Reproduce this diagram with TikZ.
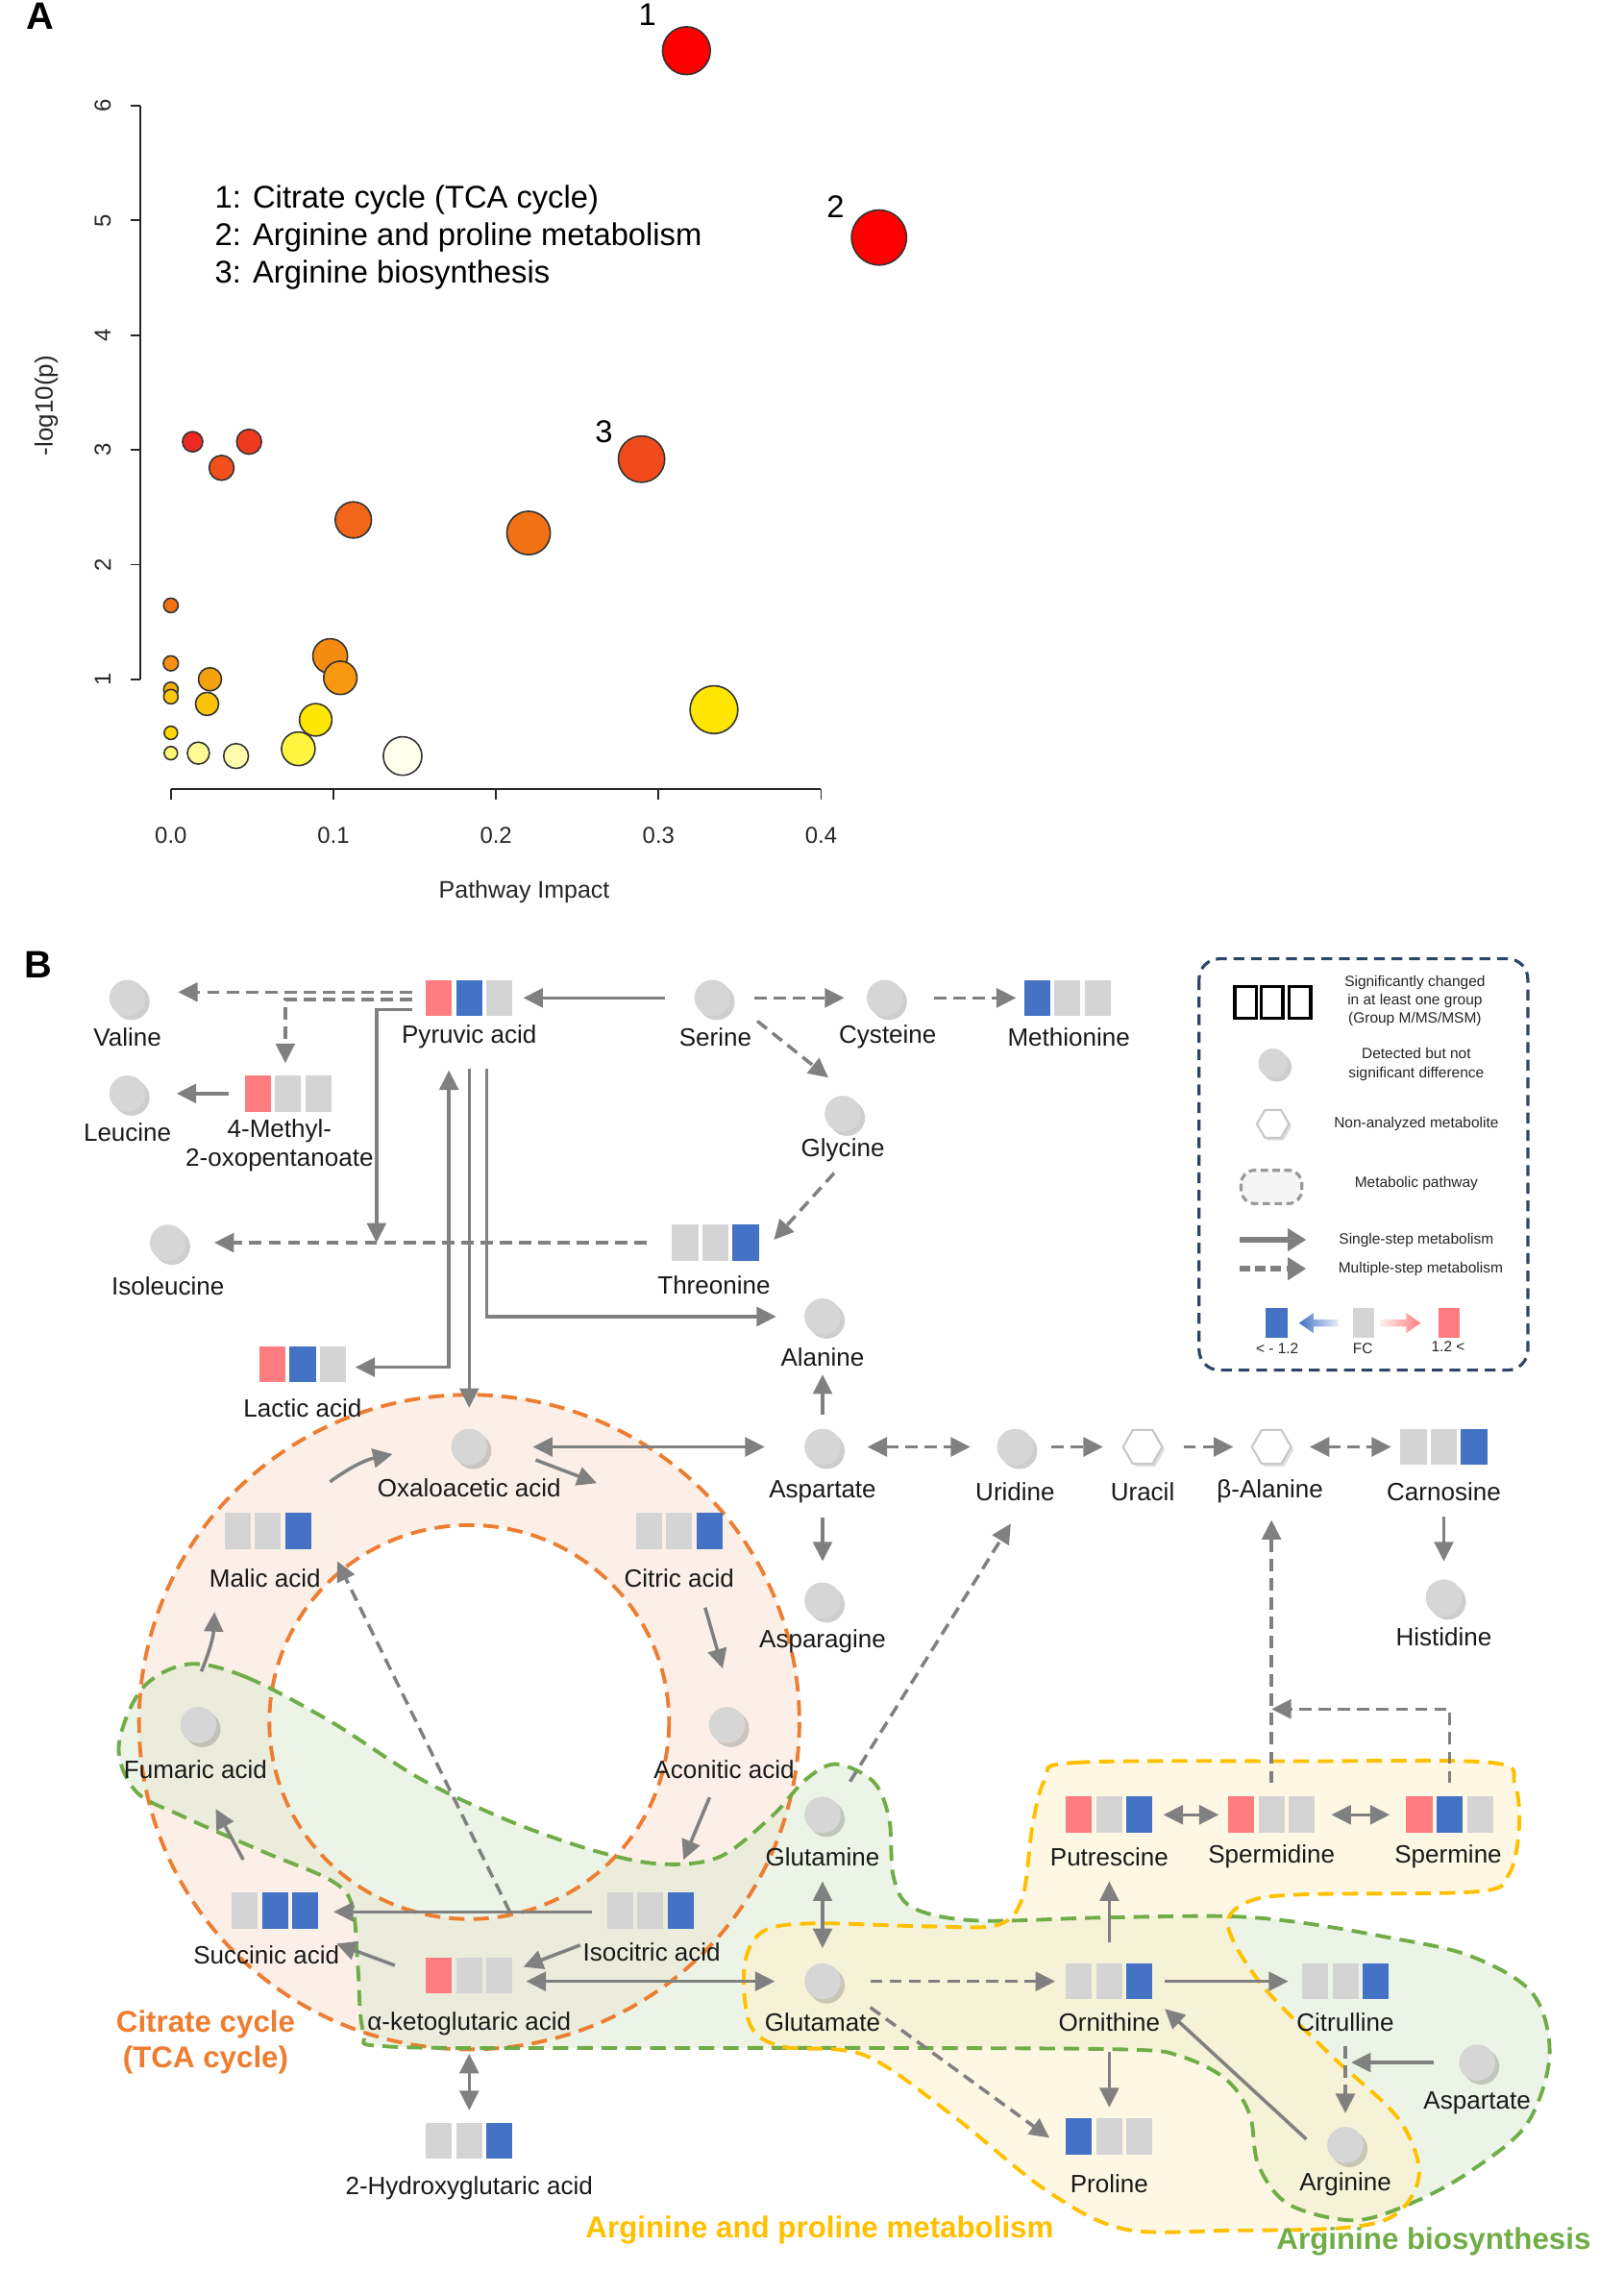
\documentclass[tikz,border=0pt]{standalone}
\usepackage{fontspec}
\setmainfont{Liberation Sans}
\usepackage{tikz}
\usetikzlibrary{arrows.meta,positioning,calc,shapes.geometric,shadows}

\definecolor{fcred}{HTML}{FF7C80}
\definecolor{fcblue}{HTML}{4472C4}
\definecolor{fcgray}{HTML}{D4D4D4}
\definecolor{metgray}{HTML}{D6D6D6}
\definecolor{arrgray}{HTML}{808080}
\definecolor{tcaedge}{HTML}{ED7D31}
\definecolor{tcafill}{HTML}{F9DFCF}
\definecolor{argedge}{HTML}{70AD47}
\definecolor{argfill}{HTML}{DDEBD3}
\definecolor{proedge}{HTML}{FFC000}
\definecolor{profill}{HTML}{FDF1CD}
\definecolor{legnavy}{HTML}{2F4468}

\tikzset{
  metab/.style={circle, fill=metgray, minimum size=10.7pt, inner sep=0pt,
    drop shadow={shadow xshift=1.2pt, shadow yshift=-1.2pt, opacity=.35, fill=black!55}},
  hexa/.style={regular polygon, regular polygon sides=6, minimum size=11.6pt, inner sep=0pt,
    fill=white, draw=black!22, line width=.6pt,
    drop shadow={shadow xshift=.8pt, shadow yshift=-.8pt, opacity=.25, fill=black!50}},
  fcbox/.style={rectangle, minimum width=7.7pt, minimum height=10.7pt, inner sep=0pt},
  lbl/.style={font=\fontsize{7.4}{8.6}\selectfont, text=black!90, inner sep=0pt, align=center},
  legtxt/.style={font=\fontsize{4.4}{5.5}\selectfont, text=black!85, inner sep=0pt, align=center},
  axnum/.style={font=\fontsize{6.8}{8}\selectfont, text=black!85, inner sep=0pt},
  numtxt/.style={font=\fontsize{9.3}{11}\selectfont, inner sep=0pt},
  onestep/.style={draw=arrgray, line width=1pt},
  multistep/.style={onestep, dash pattern=on 3.6pt off 2.1pt},
  pathline/.style={line width=1.1pt, dash pattern=on 4.6pt off 2.6pt},
  pathname/.style={font=\bfseries\fontsize{8.9}{10.7}\selectfont, inner sep=0pt, align=center},
}

% three fold-change boxes: name, position, left, middle, right colour
\newcommand{\fcbar}[5]{%
  \node[fcbox,fill=#4] (#1) at (#2) {};
  \node[fcbox,fill=#3,left=0.86pt of #1] (#1-l) {};
  \node[fcbox,fill=#5,right=0.86pt of #1] (#1-r) {};}

\def\argshape{plot[smooth cycle, tension=.55] coordinates {(130,1149) (170,1158) (229,1189)
  (290,1228) (351,1257) (411,1278) (457,1287) (497,1282) (533,1254) (556,1229) (577,1218)
  (603,1230) (614,1256) (617,1296) (630,1317) (673,1326) (760,1324) (844,1323) (895,1327)
  (955,1337) (1014,1350) (1058,1376) (1070,1419) (1054,1467) (1014,1500) (975,1521)
  (935,1533) (890,1522) (869,1495) (863,1460) (847,1436) (816,1420) (776,1415) (600,1414)
  (420,1414) (268,1413) (251,1403) (247,1356) (243,1315) (228,1298) (183,1279) (126,1254)
  (94,1237) (82,1206) (98,1166)}}
\def\proshape{plot[smooth cycle, tension=.55] coordinates {(722,1228) (742,1217) (900,1216)
  (1030,1217) (1046,1232) (1049,1262) (1042,1294) (1020,1306) (900,1308) (862,1313)
  (848,1330) (871,1370) (919,1419) (965,1462) (980,1500) (965,1528) (930,1538) (850,1540)
  (776,1539) (722,1512) (657,1460) (597,1419) (540,1413) (518,1398) (514,1358) (526,1334)
  (560,1328) (640,1330) (689,1329) (706,1310) (713,1260)}}

\begin{document}
\begin{tikzpicture}[x=0.015067cm, y=-0.015067cm, >={Triangle[length=5.8pt,width=5.6pt]}]
\useasboundingbox (0,0) rectangle (1121,1568);

% ---------------- panel A
\node[anchor=base west, font=\bfseries\fontsize{11.3}{13}\selectfont] (pa) at (10,20) {A};
\draw[black!85, line width=.5pt] (97,73) -- (97,469);
\foreach \v in {1,...,6} {
  \draw[black!85, line width=.5pt] (97,{548.2-79.2*\v}) -- (90,{548.2-79.2*\v});
  \node[axnum, rotate=90] (ytick\v) at (71,{548.2-79.2*\v}) {\v};
}
\draw[black!85, line width=.5pt] (118,545) -- (567,545);
\foreach \u/\xl in {0/0.0,1/0.1,2/0.2,3/0.3,4/0.4} {
  \draw[black!85, line width=.5pt] ({118+112.25*\u},545) -- ({118+112.25*\u},552);
  \node[axnum] (xtick\u) at ({118+112.25*\u},577) {\xl};
}
\node[axnum, font=\fontsize{7.1}{8}\selectfont] (xlab) at (362,616) {Pathway Impact};
\node[axnum, rotate=90, font=\fontsize{7.4}{8}\selectfont] (ylab) at (32,280) {-log10(p)};

\foreach \bx/\by/\br/\bc in {
  133/305/7/yellow!6!red, 172/305/8.6/yellow!14!red, 153/323/8.6/yellow!24!red,
  244/359/12.5/yellow!34!red, 365/368/15/yellow!40!red, 443/317/16/yellow!22!red,
  474/35/16.5/red, 607/164/19/red,
  118/418/5/yellow!40!red, 118/458/5.2/yellow!54!red, 145/469/8/yellow!62!red,
  118/476/5/yellow!68!red, 118/481/5/yellow!80!red, 143/486/8/yellow!78!red,
  228/453/12/yellow!52!red, 235/468/11.5/yellow!58!red, 218/497/11.2/yellow!94!red,
  118/506/4.6/yellow!88!red, 118/520/4.6/yellow!55!white, 137/520/7.6/yellow!42!white,
  163/522/8.6/yellow!32!white, 206/517/11.6/yellow!75!white, 278/522/13.3/yellow!7!white,
  493/490/16.5/yellow!94!red}
  \draw[black!80, line width=.45pt, fill=\bc] (\bx,\by) circle[radius=\br];

\node[numtxt] (n1) at (447,10) {1};
\node[numtxt] (n2) at (577,143) {2};
\node[numtxt] (n3) at (417,298) {3};
\node[numtxt, anchor=west] (key1) at (148,138) {1: Citrate cycle (TCA cycle)};
\node[numtxt, anchor=west] (key2) at (148,164) {2: Arginine and proline metabolism};
\node[numtxt, anchor=west] (key3) at (148,190) {3: Arginine biosynthesis};

% ---------------- panel B
\node[anchor=base west, font=\bfseries\fontsize{11.3}{13}\selectfont] (pb) at (9,675) {B};

% pathways
\fill[tcafill, fill opacity=.5, even odd rule] (324,1189) ellipse[x radius=228, y radius=226]
  (324,1189) ellipse[x radius=138, y radius=136];
\fill[argfill, fill opacity=.55] \argshape;
\fill[profill, fill opacity=.55] \proshape;
\draw[tcaedge, pathline] (324,1189) ellipse[x radius=228, y radius=226]
  (324,1189) ellipse[x radius=138, y radius=136];
\draw[argedge, pathline] \argshape;
\draw[proedge, pathline] \proshape;

\node[pathname, text=tcaedge] (tcaname) at (142,1410) {Citrate cycle\\(TCA cycle)};
\node[pathname, text=proedge] (proname) at (566,1540) {Arginine and proline metabolism};
\node[pathname, text=argedge] (argname) at (990,1548) {Arginine biosynthesis};

% metabolites
\node[metab] (val) at (88,689) {};
\node[metab] (leu) at (88,755) {};
\fcbar{mop}{199,755}{fcred}{fcgray}{fcgray}
\fcbar{pyr}{324,689}{fcred}{fcblue}{fcgray}
\node[metab] (ser) at (492,689) {};
\node[metab] (cys) at (611,689) {};
\fcbar{meth}{737,689}{fcblue}{fcgray}{fcgray}
\node[metab] (gly) at (582,769) {};
\node[metab] (ile) at (116,858) {};
\fcbar{thr}{494,858}{fcgray}{fcgray}{fcblue}
\node[metab] (ala) at (568,909) {};
\fcbar{lac}{209,942}{fcred}{fcblue}{fcgray}
\node[metab] (oaa) at (324,999) {};
\node[metab] (asp) at (568,999) {};
\node[metab] (uri) at (701,999) {};
\node[hexa] (ura) at (789,999) {};
\node[hexa] (bala) at (878,999) {};
\fcbar{car}{997,999}{fcgray}{fcgray}{fcblue}
\node[metab] (his) at (997,1103) {};
\fcbar{mal}{185,1057}{fcgray}{fcgray}{fcblue}
\fcbar{cit}{469,1057}{fcgray}{fcgray}{fcblue}
\node[metab] (asn) at (568,1105) {};
\node[metab] (fum) at (137,1191) {};
\node[metab] (aco) at (502,1191) {};
\node[metab] (gln) at (568,1253) {};
\fcbar{put}{766,1253}{fcred}{fcgray}{fcblue}
\fcbar{spd}{878,1253}{fcred}{fcgray}{fcgray}
\fcbar{spm}{1001,1253}{fcred}{fcblue}{fcgray}
\fcbar{suc}{190,1319}{fcgray}{fcblue}{fcblue}
\fcbar{ici}{449,1319}{fcgray}{fcgray}{fcblue}
\fcbar{akg}{324,1364}{fcred}{fcgray}{fcgray}
\node[metab] (glu) at (568,1368) {};
\fcbar{orn}{766,1368}{fcgray}{fcgray}{fcblue}
\fcbar{ctl}{929,1368}{fcgray}{fcgray}{fcblue}
\node[metab] (asp2) at (1020,1424) {};
\fcbar{pro}{766,1475}{fcblue}{fcgray}{fcgray}
\node[metab] (arg) at (929,1481) {};
\fcbar{hga}{324,1478}{fcgray}{fcgray}{fcblue}

% pyruvate branch
\coordinate (j1) at (260,858);
\draw[onestep,->] ($(ser.west)+(-20,0)$) -- ($(pyr-r.east)+(7,0)$);
\draw[multistep,->] ($(pyr-l.west)+(-9,-4)$) -- ($(val.east)+(22,-4)$);
\draw[multistep,->] ($(pyr-l.west)+(-9,1)$) -| ($(mop.north)+(-2,-8)$);
\draw[onestep,->] ($(pyr-l.west)+(-9,8)$) -| (j1);
\draw[multistep,->] ($(thr-l.west)+(-17,0)$) -- ($(ile.east)+(19,0)$);
\draw[onestep,->] ($(mop-l.west)+(-11,0)$) -- ($(leu.east)+(21,0)$);
\draw[multistep,->] ($(ser.east)+(16,0)$) -- ($(cys.west)+(-15,0)$);
\draw[multistep,->] ($(cys.east)+(21,0)$) -- ($(meth-l.west)+(-5,0)$);
\draw[multistep,->] ($(ser.east)+(18,16)$) -- ($(gly.north)+(-10,-12)$);
\draw[multistep,->] ($(gly.south)+(-6,28)$) -- ($(thr-r.east)+(10,-2)$);
\draw[onestep,<->] ($(lac-r.east)+(6,2)$) -| ($(pyr.south)+(-14,37)$);
\draw[onestep,->] ($(pyr.south)+(0,36)$) -- ($(oaa.north)+(0,-14)$);
\draw[onestep,->] ($(pyr.south)+(12,36)$) |- ($(ala.west)+(-19,0)$);

% aspartate and pyrimidines
\draw[onestep,->] ($(asp.north)+(0,-9)$) -- ($(ala.south)+(0,27)$);
\draw[onestep,<->] ($(oaa.east)+(31,0)$) -- ($(asp.west)+(-27,0)$);
\draw[multistep,<->] ($(asp.east)+(18,0)$) -- ($(uri.west)+(-18,0)$);
\draw[multistep,->] ($(uri.east)+(12,0)$) -- ($(ura.west)+(-13,0)$);
\draw[multistep,->] ($(ura.east)+(14,0)$) -- ($(bala.west)+(-12,0)$);
\draw[multistep,<->] ($(bala.east)+(12,0)$) -- ($(car-l.west)+(-6,0)$);
\draw[onestep,->] ($(car.south)+(0,35)$) -- ($(his.north)+(0,-12)$);
\draw[onestep,->] ($(asp.south)+(0,36)$) -- ($(asn.north)+(0,-14)$);

% polyamines
\coordinate (j2) at (878,1180);
\draw[multistep,->] ($(gln.north)+(19,-10)$) -- ($(uri.south)+(-3,40)$);
\draw[multistep,->] ($(spd.north)+(0,-9)$) -- ($(bala.south)+(0,38)$);
\draw[multistep,->] ($(spm.north)+(0,-9)$) |- (j2);
\draw[onestep,<->] ($(put-r.east)+(7,0)$) -- ($(spd-l.west)+(-6,0)$);
\draw[onestep,<->] ($(spd-r.east)+(11,0)$) -- ($(spm-l.west)+(-11,0)$);
\draw[onestep,->] ($(orn.north)+(0,-14)$) -- ($(put.south)+(0,33)$);

% glutamate, ornithine, arginine
\coordinate (j3) at (933,1424);
\draw[onestep,<->] ($(gln.south)+(0,33)$) -- ($(glu.north)+(0,-10)$);
\draw[multistep,->] ($(glu.east)+(20,0)$) -- ($(orn-l.west)+(-7,0)$);
\draw[onestep,->] ($(orn-r.east)+(8,0)$) -- ($(ctl-l.west)+(-9,0)$);
\draw[onestep,->] ($(orn.south)+(0,36)$) -- ($(pro.north)+(0,-7)$);
\draw[multistep,->] ($(glu.east)+(20,18)$) -- ($(pro-l.west)+(-11,1)$);
\draw[onestep,->] ($(arg.west)+(-14,-4)$) -- ($(orn-r.east)+(8,19)$);
\draw[multistep,->] ($(ctl.south)+(0,32)$) -- ($(arg.north)+(0,-9)$);
\draw[onestep,->] ($(asp2.west)+(-17,0)$) -- (j3);

% TCA cycle
\coordinate (j4) at (352,1320);
\draw[onestep,<->] ($(akg-r.east)+(9,4)$) -- ($(glu.west)+(-20,0)$);
\draw[onestep,<->] ($(akg.south)+(0,41)$) -- ($(hga.north)+(0,-8)$);
\draw[onestep,->] ($(ici-l.west)+(-18,24)$) -- ($(akg-r.east)+(7,-6)$);
\draw[onestep,->] ($(ici-l.west)+(-10,1)$) -- ($(suc-r.east)+(10,1)$);
\draw[onestep,->] ($(akg-l.west)+(-21,-7)$) -- ($(suc-r.east)+(12,23)$);
\draw[onestep,->] ($(suc.north)+(-22,-22)$) -- ($(fum.south)+(12,45)$);
\draw[onestep,->] ($(fum.north)+(2,-24)$) to[bend right=10] ($(mal-l.south)+(-16,43)$);
\draw[onestep,->] ($(mal-r.north)+(22,-21)$) to[bend left=12] ($(oaa.west)+(-40,5)$);
\draw[onestep,->] ($(oaa.east)+(33,9)$) -- ($(cit-l.north)+(-36,-20)$);
\draw[onestep,->] ($(cit-r.south)+(-3,40)$) -- ($(aco.north)+(-3,-26)$);
\draw[onestep,->] ($(aco.south)+(-12,37)$) -- ($(ici-r.north)+(2,-22)$);
\draw[multistep,->] (j4) -- ($(mal-r.south)+(27,8)$);

% names
\node[lbl] (val-t) at (88,716) {Valine};
\node[lbl] (leu-t) at (88,782) {Leucine};
\node[lbl] (mop-t) at (193,791) {4-Methyl-\\2-oxopentanoate};
\node[lbl] (pyr-t) at (324,716) {Pyruvic acid};
\node[lbl] (ser-t) at (494,716) {Serine};
\node[lbl] (cys-t) at (613,716) {Cysteine};
\node[lbl] (meth-t) at (738,716) {Methionine};
\node[lbl] (gly-t) at (582,794) {Glycine};
\node[lbl] (ile-t) at (116,888) {Isoleucine};
\node[lbl] (thr-t) at (493,887) {Threonine};
\node[lbl] (ala-t) at (568,937) {Alanine};
\node[lbl] (lac-t) at (209,972) {Lactic acid};
\node[lbl] (oaa-t) at (324,1027) {Oxaloacetic acid};
\node[lbl] (asp-t) at (568,1030) {Aspartate};
\node[lbl] (uri-t) at (701,1030) {Uridine};
\node[lbl] (ura-t) at (789,1030) {Uracil};
\node[lbl] (bala-t) at (877,1030) {β-Alanine};
\node[lbl] (car-t) at (997,1030) {Carnosine};
\node[lbl] (his-t) at (997,1130) {Histidine};
\node[lbl] (mal-t) at (183,1090) {Malic acid};
\node[lbl] (cit-t) at (469,1090) {Citric acid};
\node[lbl] (asn-t) at (568,1133) {Asparagine};
\node[lbl] (fum-t) at (135,1222) {Fumaric acid};
\node[lbl] (aco-t) at (500,1222) {Aconitic acid};
\node[lbl] (gln-t) at (568,1282) {Glutamine};
\node[lbl] (put-t) at (766,1282) {Putrescine};
\node[lbl] (spd-t) at (878,1282) {Spermidine};
\node[lbl] (spm-t) at (1000,1282) {Spermine};
\node[lbl] (suc-t) at (184,1350) {Succinic acid};
\node[lbl] (ici-t) at (450,1348) {Isocitric acid};
\node[lbl] (akg-t) at (324,1397) {α-ketoglutaric acid};
\node[lbl] (glu-t) at (568,1396) {Glutamate};
\node[lbl] (orn-t) at (766,1396) {Ornithine};
\node[lbl] (ctl-t) at (929,1396) {Citrulline};
\node[lbl] (asp2-t) at (1020,1452) {Aspartate};
\node[lbl] (pro-t) at (766,1508) {Proline};
\node[lbl] (arg-t) at (929,1508) {Arginine};
\node[lbl] (hga-t) at (324,1511) {2-Hydroxyglutaric acid};

% legend
\draw[legnavy, line width=.9pt, dash pattern=on 3.2pt off 2pt, rounded corners=6pt] (828,662) rectangle (1055,946);
\foreach \k/\lx in {1/860,2/878.5,3/897.5}
  \node[draw=black, line width=1pt, minimum width=6.4pt, minimum height=9.4pt, inner sep=0pt] (lgbox\k) at (\lx,692) {};
\node[legtxt] (lgt1) at (977,691) {Significantly changed\\in at least one group\\(Group M/MS/MSM)};
\node[metab, minimum size=8.6pt] (lgc) at (879,734) {};
\node[legtxt] (lgt2) at (978,735) {Detected but not\\significant difference};
\node[hexa, minimum size=9.5pt] (lgh) at (879,776) {};
\node[legtxt] (lgt3) at (978,776) {Non-analyzed metabolite};
\draw[black!40, fill=black!4, line width=.9pt, dash pattern=on 2.2pt off 1.3pt, rounded corners=4pt] (857,808) rectangle (899,831);
\node[legtxt] (lgt4) at (978,817) {Metabolic pathway};
\coordinate (lga1) at (856,856);
\coordinate (lga2) at (902,856);
\draw[onestep, line width=1.7pt, -{Triangle[length=5.5pt,width=6.5pt]}] (lga1) -- (lga2);
\node[legtxt] (lgt5) at (978,856) {Single-step metabolism};
\coordinate (lgb1) at (856,876);
\coordinate (lgb2) at (902,876);
\draw[onestep, line width=1.7pt, dash pattern=on 3pt off 1.6pt, -{Triangle[length=5.5pt,width=6.5pt]}] (lgb1) -- (lgb2);
\node[legtxt] (lgt6) at (981,876) {Multiple-step metabolism};
\node[fill=fcblue, minimum width=6.4pt, minimum height=9pt, inner sep=0pt] (lgblue) at (881.5,913.5) {};
\node[fill=fcgray, minimum width=6.4pt, minimum height=9pt, inner sep=0pt] (lggray) at (941.5,913.5) {};
\node[fill=fcred, minimum width=6.4pt, minimum height=9pt, inner sep=0pt] (lgred) at (1000.5,913.5) {};
\shade[left color=fcblue, right color=fcblue!12] (897,913.5) -- (907,906.5) -- (907,911) -- (924,911)
  -- (924,916) -- (907,916) -- (907,920.5) -- cycle;
\shade[left color=fcred!12, right color=fcred] (953,911) -- (971,911) -- (971,906.5) -- (981,913.5)
  -- (971,920.5) -- (971,916) -- (953,916) -- cycle;
\node[legtxt] (lgl1) at (882,931) {< - 1.2};
\node[legtxt] (lgl2) at (941,931) {FC};
\node[legtxt] (lgl3) at (1000,930) {1.2 <};
\end{tikzpicture}
\end{document}
